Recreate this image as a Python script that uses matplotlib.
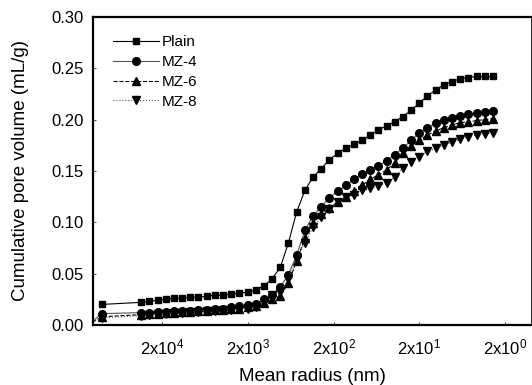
import matplotlib
matplotlib.use("Agg")
import matplotlib.pyplot as plt
from matplotlib.ticker import FixedLocator, NullLocator

plt.rcParams['font.family'] = ['Liberation Sans', 'DejaVu Sans']
plt.rcParams['mathtext.default'] = 'regular'

# Mean radius (nm) of each measurement point
radius = [100000, 35160, 28220, 22660, 18190, 14600, 11720, 9410, 7550, 6060,
          4870, 3910, 3140, 2520, 2020, 1620, 1300, 1046, 839, 674,
          541, 434, 349, 280, 225, 180, 145, 116, 93.3, 74.9,
          60.2, 48.3, 38.8, 31.1, 25.0, 20.1, 16.1, 12.9, 10.4, 8.33,
          6.69, 5.37, 4.31, 3.46, 2.78]
# MZ samples have one extra point at the coarsest radius (just outside the axis)
radius_mz = [150000] + radius

plain = [0.020, 0.022, 0.023, 0.024, 0.025, 0.026, 0.026, 0.027, 0.027, 0.028,
         0.029, 0.029, 0.030, 0.031, 0.032, 0.034, 0.038, 0.045, 0.056, 0.080,
         0.110, 0.131, 0.144, 0.152, 0.161, 0.167, 0.172, 0.176, 0.180, 0.185,
         0.190, 0.194, 0.198, 0.203, 0.209, 0.216, 0.223, 0.229, 0.234, 0.237,
         0.240, 0.241, 0.242, 0.242, 0.242]

mz4 = [0.000, 0.011, 0.012, 0.012, 0.013, 0.013, 0.014, 0.014, 0.014, 0.015, 0.015,
       0.016, 0.016, 0.017, 0.018, 0.019, 0.020, 0.025, 0.029, 0.037, 0.049,
       0.068, 0.092, 0.106, 0.115, 0.124, 0.130, 0.136, 0.142, 0.147, 0.151,
       0.155, 0.160, 0.166, 0.172, 0.180, 0.187, 0.192, 0.197, 0.200, 0.202,
       0.204, 0.205, 0.206, 0.207, 0.208]

mz6 = [0.000, 0.008, 0.010, 0.011, 0.011, 0.012, 0.012, 0.013, 0.013, 0.014, 0.014,
       0.015, 0.015, 0.016, 0.016, 0.017, 0.018, 0.021, 0.025, 0.028, 0.041,
       0.062, 0.085, 0.099, 0.108, 0.114, 0.120, 0.125, 0.130, 0.136, 0.142,
       0.146, 0.151, 0.158, 0.167, 0.174, 0.180, 0.185, 0.189, 0.192, 0.195,
       0.197, 0.198, 0.199, 0.200, 0.201]

mz8 = [0.000, 0.007, 0.009, 0.010, 0.011, 0.011, 0.012, 0.012, 0.013, 0.013, 0.014,
       0.014, 0.015, 0.015, 0.016, 0.016, 0.017, 0.022, 0.029, 0.032, 0.045,
       0.064, 0.080, 0.095, 0.105, 0.113, 0.120, 0.125, 0.127, 0.131, 0.133,
       0.135, 0.138, 0.144, 0.153, 0.159, 0.164, 0.169, 0.172, 0.175, 0.178,
       0.181, 0.183, 0.185, 0.186, 0.187]

xtick_vals = [2e4, 2e3, 2e2, 2e1, 2e0]
xtick_labels = ['2x10$^{4}$', '2x10$^{3}$', '2x10$^{2}$', '2x10$^{1}$', '2x10$^{0}$']
ytick_vals = [0.00, 0.05, 0.10, 0.15, 0.20, 0.25, 0.30]

fig = plt.figure(figsize=(5.32, 3.85), dpi=100)
ax = fig.add_axes([0.175, 0.156, 0.823, 0.800])

ax.plot(radius, plain, color='black', lw=0.8, ls='-', marker='s', ms=5, label='Plain')
ax.plot(radius_mz, mz4, color='#555555', lw=0.8, ls='-', marker='o', ms=5.5, mfc='black', mec='black', label='MZ-4')
ax.plot(radius_mz, mz6, color='black', lw=0.8, ls='--', marker='^', ms=5.5, label='MZ-6')
ax.plot(radius_mz, mz8, color='#555555', lw=0.8, ls=':', marker='v', ms=5.5, mfc='black', mec='black', label='MZ-8')

ax.set_xscale('log')
ax.set_xlim(1.28e5, 1.0)
ax.set_ylim(0, 0.30)
ax.xaxis.set_major_locator(FixedLocator(xtick_vals))
ax.xaxis.set_minor_locator(NullLocator())
ax.set_xticklabels(xtick_labels)
ax.set_yticks(ytick_vals)
ax.set_yticklabels([f'{v:.2f}' for v in ytick_vals])

ax.tick_params(axis='both', which='major', direction='in', length=2, width=0.5,
               labelsize=12, colors='black')
ax.tick_params(axis='x', pad=9)
ax.tick_params(axis='y', pad=7)

for s in ['left', 'bottom', 'top']:
    ax.spines[s].set_linewidth(1.6)
ax.spines['right'].set_linewidth(0.6)

ax.set_xlabel('Mean radius (nm)', fontsize=13.5, labelpad=8)
ax.set_ylabel('Cumulative pore volume (mL/g)', fontsize=13.5, labelpad=16)

leg = ax.legend(loc='upper left', bbox_to_anchor=(0.025, 0.97), frameon=False,
                fontsize=11, handlelength=3.0, handletextpad=0.2, labelspacing=0.38,
                borderaxespad=0.2)

fig.savefig('out.png', dpi=100)
